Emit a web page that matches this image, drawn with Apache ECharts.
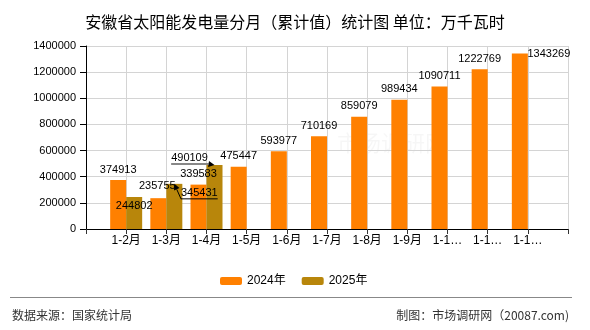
<!DOCTYPE html>
<html>
<head>
<meta charset="utf-8">
<script src="https://cdn.jsdelivr.net/npm/echarts@6/dist/echarts.min.js"></script>
<style>html,body{margin:0;padding:0;background:#fff}#c{width:590px;height:330px}</style>
</head>
<body>
<div id="c"></div>
<script>
var categories = ['1-2月','1-3月','1-4月','1-5月','1-6月','1-7月','1-8月','1-9月','1-10月','1-11月','1-12月'];
var values2024 = [374913, 235755, 339583, 475447, 593977, 710169, 859079, 989434, 1090711, 1222769, 1343269];
var values2025 = [244802, 345431, 490109];
var yTicks = [0, 200000, 400000, 600000, 800000, 1000000, 1200000, 1400000];

// label nudges (style only): [seriesIndex, categoryIndex, dx, dy, guide line style]
var nudges = [
  [0, 10, 29, 11, null],
  [0, 1, -1, -2, null],
  [1, 0, 0, 19, null],
  [1, 1, 25, 20, {color:'#000', width:1}],
  [1, 2, -25, 4, {color:'#888', width:2}]
];

var axisData = [''].concat(categories).concat(['']);
function buildData(vals) {
  var out = [null];
  for (var i = 0; i < categories.length; i++) out.push(i < vals.length ? vals[i] : null);
  out.push(null);
  return out;
}

var guides = {};
var chart = echarts.init(document.getElementById('c'));
var font = 'Liberation Sans, Noto Sans CJK SC, sans-serif';

var staticGraphics = [
  {id: 'wm', type: 'text', left: 337, top: 132, z: -1, silent: true,
   style: {text: '市场调研网', fontSize: 22, fill: 'rgba(0,0,0,0.035)', fontFamily: 'Noto Sans CJK SC'}},
  {id: 'sep', type: 'line', shape: {x1: 10, y1: 297.5, x2: 572, y2: 297.5}, style: {stroke: '#888', lineWidth: 1}},
  {id: 'src', type: 'text', left: 12, top: 309,
   style: {text: '数据来源：国家统计局', fontSize: 12, fill: '#333', fontFamily: 'Noto Sans CJK SC'}},
  {id: 'mk', type: 'text', right: 21, top: 309,
   style: {text: '制图：市场调研网（20087.com)', fontSize: 12, fill: '#333', fontFamily: 'Noto Sans CJK SC'}}
];

chart.setOption({
  animation: false,
  textStyle: {fontFamily: font},
  title: {
    text: '安徽省太阳能发电量分月（累计值）统计图 单位：万千瓦时',
    left: 'center', top: 9,
    textStyle: {fontSize: 16, fontWeight: 'normal', color: '#000', fontFamily: 'Noto Sans CJK SC'}
  },
  legend: {
    left: 215, top: 270, itemWidth: 22, itemHeight: 8, itemGap: 16,
    textStyle: {fontSize: 12, color: '#000', fontFamily: font},
    data: ['2024年', '2025年']
  },
  grid: {left: 86, right: 22, top: 46, bottom: 101, containLabel: false},
  xAxis: {
    type: 'category', data: axisData, boundaryGap: false,
    axisLine: {lineStyle: {color: '#000'}},
    axisTick: {show: true, length: 5, interval: 0, lineStyle: {color: '#333'}},
    axisLabel: {
      interval: 0, margin: 6, fontSize: 12, color: '#000', fontFamily: font,
      formatter: function (v) { return v.length > 4 ? v.slice(0, 3) + '…' : v; }
    },
    splitLine: {show: true, interval: 0, lineStyle: {color: '#d4d4d4'}}
  },
  yAxis: {
    type: 'value', min: yTicks[0], max: yTicks[yTicks.length - 1], interval: yTicks[1] - yTicks[0],
    axisLine: {show: true, lineStyle: {color: '#000'}},
    axisTick: {show: true, length: 6, lineStyle: {color: '#000'}},
    axisLabel: {fontSize: 11, color: '#000', margin: 10, fontFamily: font,
      formatter: function (v) { return String(v); }},
    splitLine: {lineStyle: {color: '#d4d4d4'}}
  },
  labelLayout: function (p) {
    for (var k = 0; k < nudges.length; k++) {
      var n = nudges[k];
      if (n[0] === p.seriesIndex && n[1] + 1 === p.dataIndex) {
        if (n[4]) {
          var lr = p.labelRect;
          var nx = lr.x + n[2], ny = lr.y + n[3] + lr.height;
          var ax = p.rect.x + p.rect.width / 2, ay = p.rect.y;
          guides['g' + k] = {
            pts: n[2] > 0 ? [[ax, ay], [nx, ny], [nx + lr.width, ny]]
                          : [[ax, ay], [nx + lr.width, ny], [nx, ny]],
            style: n[4]
          };
        }
        return {dx: n[2], dy: n[3]};
      }
    }
    return {};
  },
  series: [
    {
      name: '2024年', type: 'bar', barWidth: 16, barGap: '0%',
      itemStyle: {color: '#ff8000'},
      label: {show: true, position: 'top', distance: 5, fontSize: 11, color: '#000', fontFamily: font},
      data: buildData(values2024)
    },
    {
      name: '2025年', type: 'bar', barWidth: 16, barGap: '0%',
      itemStyle: {color: '#b8860b'},
      label: {show: true, position: 'top', distance: 5, fontSize: 11, color: '#000', fontFamily: font},
      data: buildData(values2025)
    }
  ],
  graphic: staticGraphics
});

// draw label guide lines with arrowheads from the laid-out bar/label rects
var extra = [];
Object.keys(guides).forEach(function (key) {
  var g = guides[key];
  var a = g.pts[0], b = g.pts[1];
  var dx = a[0] - b[0], dy = a[1] - b[1];
  var len = Math.sqrt(dx * dx + dy * dy) || 1;
  var ux = dx / len, uy = dy / len;
  var s = 6;
  var tip = [a[0], a[1]];
  var base = [a[0] - ux * s, a[1] - uy * s];
  var px = -uy * s * 0.5, py = ux * s * 0.5;
  extra.push({id: key + 'l', type: 'polyline', z: 100, silent: true,
    shape: {points: [base].concat(g.pts.slice(1))},
    style: {stroke: g.style.color, lineWidth: g.style.width, fill: null}});
  extra.push({id: key + 'a', type: 'polygon', z: 100, silent: true,
    shape: {points: [tip, [base[0] + px, base[1] + py], [base[0] - px, base[1] - py]]},
    style: {fill: '#000'}});
});
chart.setOption({graphic: staticGraphics.concat(extra)});
</script>
</body>
</html>
